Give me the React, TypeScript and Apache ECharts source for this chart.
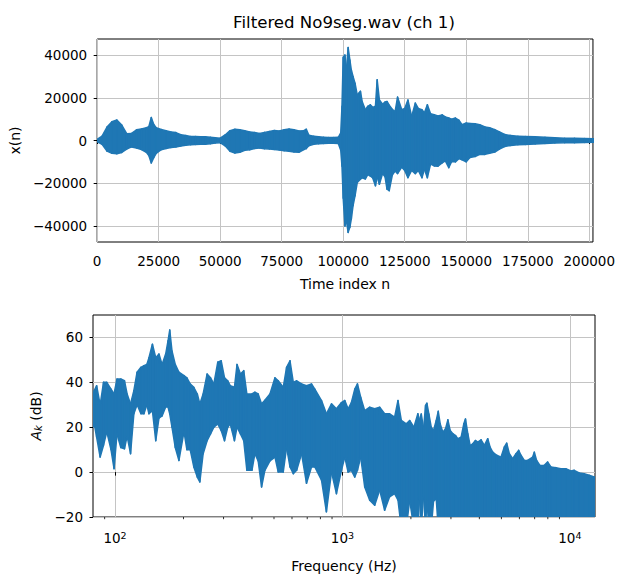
import React, { useEffect, useRef } from "react";
import * as echarts from "echarts";

// ---------- Top panel: waveform envelope ----------
const waveT = [0, 2000, 4000, 6000, 8000, 10000, 12000, 14000, 16000, 18000, 20000, 21000, 22000, 23000, 24000, 26000, 28000, 30000, 32000, 34000, 36000, 38000, 40000, 42000, 44000, 46000, 48000, 50000, 52000, 54000, 56000, 58000, 60000, 62000, 64000, 66000, 68000, 70000, 72000, 74000, 76000, 78000, 80000, 82000, 84000, 85000, 86000, 88000, 90000, 92000, 94000, 96000, 98000, 99000, 99500, 100000, 100700, 101300, 102000, 102700, 103300, 104000, 104800, 105700, 107000, 107700, 109000, 110000, 111000, 112000, 113100, 113800, 114700, 116000, 117000, 117800, 118700, 120000, 121100, 122100, 123800, 125000, 126300, 127800, 129300, 130500, 132000, 133000, 134200, 135500, 137000, 138500, 140200, 141500, 142900, 144000, 145600, 147000, 148300, 150000, 151500, 153600, 155500, 157600, 159500, 161600, 163500, 165600, 168000, 171000, 174000, 178000, 182000, 186000, 190000, 194000, 198000, 202000];
const waveHi = [600, 2000, 6300, 8800, 9600, 7200, 3200, 3300, 5000, 5400, 6000, 6500, 10800, 7500, 6000, 5200, 4600, 4000, 3700, 2700, 2300, 1900, 1900, 1800, 1700, 1500, 1300, 1100, 2600, 4600, 5300, 5000, 4600, 4000, 3700, 3300, 3800, 4200, 4700, 4500, 5000, 5400, 5000, 4400, 4600, 5300, 2500, 2000, 1700, 1500, 1400, 1400, 1500, 3600, 16000, 39000, 40000, 33000, 43500, 37700, 33000, 30000, 26800, 21400, 23000, 18300, 14400, 16000, 16700, 15500, 16000, 28400, 19000, 17000, 18000, 18300, 16500, 14500, 13600, 20300, 14400, 15000, 19000, 11300, 17500, 15000, 14400, 13000, 16700, 12500, 12100, 11500, 12000, 11000, 10500, 10000, 10500, 9500, 7400, 8200, 8000, 7800, 7400, 6300, 6000, 5100, 4000, 2800, 2300, 2000, 1900, 1700, 1500, 1300, 1100, 1000, 900, 800];
const waveLo = [-600, -1800, -5000, -6000, -6200, -5600, -4000, -3000, -3500, -4200, -5500, -7000, -10500, -8000, -6000, -4300, -3700, -3300, -3000, -2600, -2200, -2000, -1900, -1800, -1700, -1500, -1200, -1000, -2500, -5000, -5900, -5500, -4600, -4300, -3700, -3500, -3900, -4000, -4200, -4400, -4800, -5000, -5400, -5500, -4200, -3800, -2500, -1800, -1500, -1400, -1300, -1300, -1400, -4500, -12000, -27000, -40000, -37500, -43000, -40600, -36700, -30500, -25900, -19700, -18100, -17500, -18000, -16000, -16600, -17500, -21200, -17000, -20500, -15500, -17000, -22800, -23500, -16000, -14300, -15500, -12500, -14000, -17400, -14000, -15500, -14000, -17400, -13500, -17400, -11000, -11900, -12000, -10500, -9500, -12700, -10000, -10000, -8500, -9000, -10000, -8000, -7500, -6500, -6500, -6000, -5400, -4000, -2800, -2300, -2000, -1900, -1600, -1400, -1200, -1100, -1000, -900, -800];
const timeTicks = [0, 25000, 50000, 75000, 100000, 125000, 150000, 175000, 200000];
const ampTicks = [-40000, -20000, 0, 20000, 40000];

// ---------- Bottom panel: spectrum envelope ----------
const specF = [80, 81, 83, 86, 89, 92, 96, 99, 102, 106, 110, 113, 117, 121, 125, 130, 134, 138, 141, 146, 151, 156, 161, 167, 171, 174, 178, 184, 191, 201, 207, 214, 222, 230, 236, 244, 254, 263, 272, 283, 293, 303, 313, 321, 335, 344, 356, 368, 380, 400, 412, 426, 441, 456, 480, 505, 522, 549, 568, 588, 608, 629, 661, 695, 731, 756, 809, 850, 895, 941, 990, 1024, 1059, 1095, 1133, 1164, 1203, 1253, 1318, 1386, 1458, 1533, 1612, 1696, 1755, 1815, 1908, 1975, 2062, 2146, 2184, 2221, 2274, 2320, 2351, 2399, 2457, 2515, 2585, 2638, 2691, 2764, 2840, 2908, 2977, 3058, 3142, 3216, 3326, 3417, 3475, 3558, 3643, 3742, 3844, 3936, 4070, 4210, 4354, 4458, 4580, 4769, 4982, 5152, 5275, 5419, 5605, 5797, 5955, 6096, 6304, 6520, 6862, 6978, 7143, 7387, 7717, 7980, 8254, 8681, 9130, 9605, 10102, 10448, 10987, 11557, 12154, 12786, 13000];
const specHi = [34, 36.3, 38.5, 30, 40, 40, 37, 34.8, 41.5, 41.5, 40.7, 34.8, 30.4, 36.3, 44.5, 46.7, 47.4, 48, 51, 57, 51, 52.6, 48, 52.6, 58.5, 63.3, 54, 48, 44.5, 43, 42, 39.3, 37.8, 34.8, 30.4, 34.8, 43.7, 42, 39.3, 49, 49.6, 42, 40.7, 38.5, 37.8, 48, 43.7, 45.2, 34.8, 34.8, 35.6, 34.8, 30.4, 32, 34.8, 42, 40.7, 37.8, 46.7, 49.6, 40, 40.7, 39.3, 38.5, 39.3, 37, 31.9, 26, 30.4, 28.2, 31, 31.9, 28.2, 31, 37, 39.3, 33.4, 27.4, 28.9, 28.2, 28.9, 26, 26, 24.5, 31.9, 23, 21.5, 23, 20, 26, 23, 25.9, 19.3, 29.7, 30.7, 25.9, 20, 18.6, 23, 27.1, 21.5, 17.8, 19.3, 23.3, 18.6, 17.1, 16.3, 14.9, 15.6, 21.5, 23.7, 17.1, 11.9, 12.6, 14.1, 13.4, 14.4, 11.9, 14.9, 11.2, 8.9, 7.5, 6.7, 11.2, 12.9, 8.2, 6, 8.2, 9.7, 7.5, 5.2, 5.2, 6.7, 8.9, 5.2, 3, 3, 4.5, 2.3, 2, 1.5, 1.5, 0.5, 0.8, -0.4, -0.7, -1.4, -2.2, -2.5];
const specLo = [20, 21.5, 15.6, 6.7, 12, 18, 10, 1.5, 17, 11, 10.4, 16, 8.2, 26, 30, 26, 26, 30, 26, 27.4, 14, 24, 25, 29, 29, 26, 20, 11, 5.2, 18, 10, 10, 2.3, -2.2, -4.4, 8.2, 14, 17, 20, 21.5, 18.5, 14, 20, 21.5, 14, 20, 17, 14, 0.8, 0.8, 8.2, 5, -6.6, 0.8, 5, 6.7, 0, 0, 11, 2.3, -0.7, 0.8, 8.2, -5, 2.3, 2.3, -3.6, -17.7, 0, -9.6, 0.8, 6.7, 0, 0.8, -2.2, 0.8, 6.7, -6.6, -12.5, -14.8, -8, -17, -11, -9.6, -12.5, -25, -25, -12.5, -25, -25, -11, -25, -10, -25, -12, -25, -25, -13, -12, -25, -25, -25, -25, -25, -25, -25, -25, -25, -25, -25, -25, -25, -25, -25, -25, -25, -25, -25, -25, -25, -25, -25, -25, -25, -25, -25, -25, -25, -25, -25, -25, -25, -25, -25, -25, -25, -25, -25, -25, -25, -25, -25, -25, -25, -25, -25, -25, -25];
const dbTicks = [-20, 0, 20, 40, 60];
const decadeTicks = [100, 1000, 10000];
const minorFreqTicks = [90, 200, 300, 400, 500, 600, 700, 800, 900, 2000, 3000, 4000, 5000, 6000, 7000, 8000, 9000];

const BLUE = "#1f77b4";
const FONT = "DejaVu Sans";
const GRID_COLOR = "#c4c4c4";
const TICK_FONT = 13.5;
const NAME_FONT = 14;

function segments(xs: number[], hi: number[], lo: number[]) {
  const out: number[][] = [];
  for (let i = 0; i < xs.length - 1; i++) {
    out.push([xs[i], hi[i], lo[i], xs[i + 1], hi[i + 1], lo[i + 1]]);
  }
  return out;
}

function bandItem(_params: any, api: any) {
  const a = api.coord([api.value(0), api.value(1)]);
  const b = api.coord([api.value(3), api.value(4)]);
  const c = api.coord([api.value(3), api.value(5)]);
  const d = api.coord([api.value(0), api.value(2)]);
  return {
    type: "polygon",
    shape: { points: [a, b, c, d] },
    style: { fill: BLUE, stroke: BLUE, lineWidth: 1.5, lineJoin: "round" },
  };
}

function minorTickItem(_params: any, api: any) {
  const p = api.coord([api.value(0), api.value(1)]);
  return {
    type: "line",
    shape: { x1: p[0], y1: p[1], x2: p[0], y2: p[1] + 2.2 },
    style: { stroke: "#000", lineWidth: 0.8 },
  };
}

const plain = (v: number) => String(v).replace("-", "\u2212");
const labelStyle = { color: "#000", fontFamily: FONT, fontSize: TICK_FONT };
const nameStyle = { color: "#000", fontFamily: FONT, fontSize: NAME_FONT };
const tickStyle = { show: true, inside: false, length: 3.5, lineStyle: { color: "#000", width: 1 } };
const splitStyle = { show: true, lineStyle: { color: GRID_COLOR, width: 1 } };

export default function App() {
  const ref = useRef<HTMLDivElement>(null);
  useEffect(() => {
    document.body.style.margin = "0";
    if (!ref.current) return;
    const chart = echarts.init(ref.current, null, { renderer: "svg" });
    const option: any = {
      animation: false,
      backgroundColor: "#fff",
      textStyle: { fontFamily: FONT },
      graphic: [
        {
          type: "text",
          x: 344,
          y: 22,
          style: {
            text: "Filtered No9seg.wav (ch 1)",
            fontFamily: FONT,
            fontSize: 16.6,
            fill: "#000",
            textAlign: "center",
            textVerticalAlign: "middle",
          },
        },
      ],
      grid: [
        { left: 93, top: 39, width: 502, height: 203, show: true, borderColor: "#000", borderWidth: 1, backgroundColor: "transparent" },
        { left: 93, top: 315, width: 502, height: 202, show: true, borderColor: "#000", borderWidth: 1, backgroundColor: "transparent" },
      ],
      xAxis: [
        {
          gridIndex: 0,
          type: "value",
          min: 0,
          max: 201500,
          interval: 25000,
          name: "Time index n",
          nameLocation: "middle",
          nameGap: 35,
          nameTextStyle: nameStyle,
          axisLine: { show: false },
          axisTick: { ...tickStyle, customValues: timeTicks },
          axisLabel: { ...labelStyle, margin: 12, customValues: timeTicks, formatter: plain },
          splitLine: splitStyle,
        },
        {
          gridIndex: 1,
          type: "log",
          logBase: 10,
          min: 80,
          max: 12900,
          name: "Frequency (Hz)",
          nameLocation: "middle",
          nameGap: 42,
          nameTextStyle: nameStyle,
          axisLine: { show: false },
          axisTick: { ...tickStyle, customValues: decadeTicks },
          axisLabel: {
            ...labelStyle,
            margin: 13,
            customValues: decadeTicks,
            formatter: (v: number) => {
              const e = Math.round(Math.log10(v));
              return Math.abs(Math.pow(10, e) - v) < 1e-6 * v ? `10{sup|${e}}` : "";
            },
            rich: {
              sup: { fontFamily: FONT, fontSize: 9.5, color: "#000", verticalAlign: "top", padding: [0, 0, 5, 0] },
            },
          },
          splitLine: splitStyle,
        },
      ],
      yAxis: [
        {
          gridIndex: 0,
          type: "value",
          min: -47500,
          max: 47500,
          splitNumber: 5,
          minInterval: 20000,
          maxInterval: 20000,
          name: "x(n)",
          nameLocation: "middle",
          nameRotate: 90,
          nameGap: 72,
          nameTextStyle: nameStyle,
          axisLine: { show: false },
          axisTick: { ...tickStyle, customValues: ampTicks },
          axisLabel: { ...labelStyle, margin: 10, customValues: ampTicks, formatter: plain },
          splitLine: splitStyle,
        },
        {
          gridIndex: 1,
          type: "value",
          min: -20,
          max: 70,
          interval: 20,
          name: "{i|A}{sub|k} (dB)",
          nameLocation: "middle",
          nameRotate: 90,
          nameGap: 49,
          nameTextStyle: {
            ...nameStyle,
            rich: {
              i: { fontFamily: FONT, fontSize: NAME_FONT, fontStyle: "italic", color: "#000" },
              sub: { fontFamily: FONT, fontSize: 10, fontStyle: "italic", color: "#000", verticalAlign: "bottom", padding: [5, 0, 0, 0] },
            },
          },
          axisLine: { show: false },
          axisTick: { ...tickStyle, customValues: dbTicks },
          axisLabel: { ...labelStyle, margin: 10, customValues: dbTicks, formatter: plain },
          splitLine: splitStyle,
        },
      ],
      series: [
        {
          type: "custom",
          xAxisIndex: 0,
          yAxisIndex: 0,
          clip: true,
          renderItem: bandItem,
          encode: { x: [0, 3], y: [1, 2, 4, 5] },
          data: segments(waveT, waveHi, waveLo),
          silent: true,
        },
        {
          type: "custom",
          xAxisIndex: 1,
          yAxisIndex: 1,
          clip: true,
          renderItem: bandItem,
          encode: { x: [0, 3], y: [1, 2, 4, 5] },
          data: segments(specF, specHi, specLo),
          silent: true,
        },
        {
          type: "custom",
          xAxisIndex: 1,
          yAxisIndex: 1,
          clip: false,
          renderItem: minorTickItem,
          encode: { x: 0, y: 1 },
          data: minorFreqTicks.map((f) => [f, -20]),
          silent: true,
        },
      ],
    };
    chart.setOption(option);
    return () => chart.dispose();
  }, []);
  return <div ref={ref} style={{ width: 618, height: 578 }} />;
}
